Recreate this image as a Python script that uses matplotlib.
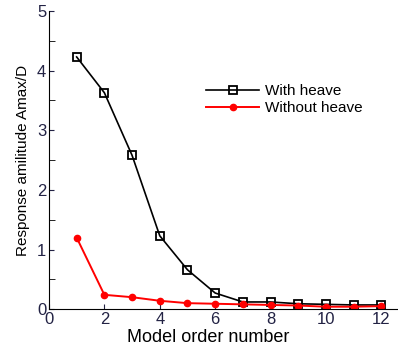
import numpy as np
import matplotlib
matplotlib.use("Agg")
import matplotlib.pyplot as plt
from matplotlib.ticker import MultipleLocator

order = np.arange(1, 13)
with_heave = [4.23, 3.63, 2.58, 1.23, 0.66, 0.27, 0.12, 0.12, 0.09, 0.08, 0.07, 0.07]
without_heave = [1.20, 0.24, 0.20, 0.14, 0.10, 0.09, 0.08, 0.07, 0.06, 0.04, 0.04, 0.05]

plt.rcParams["font.family"] = ["Liberation Sans", "DejaVu Sans"]

fig = plt.figure(figsize=(3.98, 3.45), dpi=100)
ax = fig.add_axes([0.123, 0.104, 0.877, 0.864])

ax.plot(order, with_heave, color="black", lw=1.2, marker="s", ms=6,
        mfc="none", mec="black", mew=1.3, label="With heave")
ax.plot(order, without_heave, color="red", lw=1.4, marker="o", ms=4.5,
        mfc="red", mec="red", label="Without heave")

ax.set_xlim(0, 12.6)
ax.set_ylim(0, 5)
ax.xaxis.set_major_locator(MultipleLocator(2))
ax.yaxis.set_major_locator(MultipleLocator(1))
ax.yaxis.set_minor_locator(MultipleLocator(0.5))
ax.tick_params(direction="in", labelsize=12, colors="#222244", pad=2)
ax.tick_params(which="minor", direction="in", length=4)
ax.spines[["top", "right"]].set_visible(False)

ax.set_xlabel("Model order number", fontsize=13, labelpad=-1)
ax.xaxis.set_label_coords(0.455, -0.068)
ax.set_ylabel("Response amilitude Amax/D", fontsize=11, labelpad=5)

ax.legend(loc="upper left", bbox_to_anchor=(0.41, 0.80), frameon=False,
          fontsize=11, handlelength=3.5, handletextpad=0.4, labelspacing=0.2)

fig.savefig("out.png", dpi=100)
